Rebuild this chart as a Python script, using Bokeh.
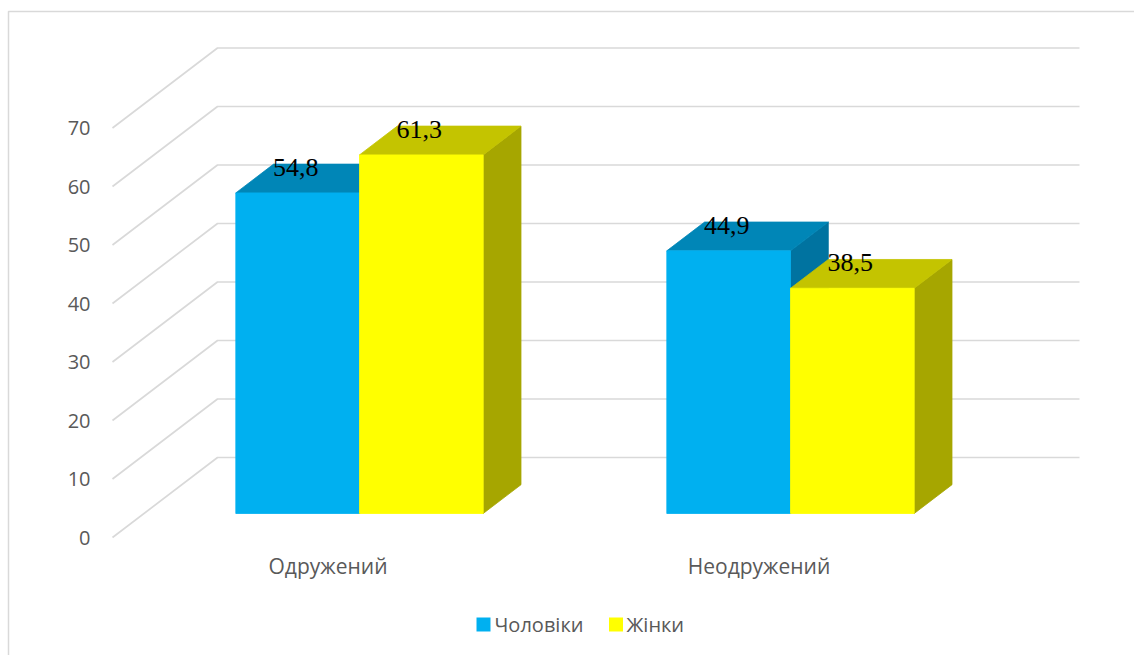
from bokeh.plotting import figure
from bokeh.models import Range1d, ColumnDataSource
from bokeh.core.properties import value
from bokeh.embed import file_html
from bokeh.resources import INLINE

# ---------------- data ----------------
categories = ["Одружений", "Неодружений"]
series_names = ["Чоловіки", "Жінки"]
men = [54.8, 44.9]
women = [61.3, 38.5]
y_ticks = [0, 10, 20, 30, 40, 50, 60, 70]
value_labels_men = ["54,8", "44,9"]
value_labels_women = ["61,3", "38,5"]

# ---------------- style / layout constants ----------------
W, H = 1134, 655
X0 = 112        # screen x of the front-left floor corner
Y0 = 537        # screen y of the front floor (value 0)
PX_U = 431      # pixels per category
PX_V = 5.85     # pixels per value unit
DEPTH_X = 105   # depth offset of back wall (px, right)
DEPTH_Y = 80    # depth offset of back wall (px, up)
D1, D2 = 0.30, 0.66   # depth of bar front / back face (0 = front, 1 = back wall)
BAR_W = 0.287   # bar width in category units

front_cols = ["#00B0F0", "#FFFF00"]
top_cols = ["#0086B7", "#C4C400"]
side_cols = ["#0073A0", "#A6A600"]
grid_col = "#D9D9D9"
text_col = "#595959"
SANS = "Open Sans"

DU = DEPTH_X / PX_U
DV = DEPTH_Y / PX_V


def P(u, v, d):
    return u + d * DU, v + d * DV


def sx(px):
    return (px - X0) / PX_U


def sy(py):
    return (Y0 - py) / PX_V


p = figure(width=W, height=H, x_range=Range1d(sx(0), sx(W)), y_range=Range1d(sy(H), sy(0)),
           output_backend="svg", toolbar_location=None, min_border=0,
           x_axis_location=None, y_axis_location=None, background_fill_color="white",
           border_fill_color="white")
p.grid.visible = False
p.outline_line_color = None

# chart-area border (left and top)
p.line([sx(8), sx(8), sx(W + 5)], [sy(H + 5), sy(11), sy(11)], line_color=grid_col, line_width=1.5)

# gridlines: floor diagonal + back wall horizontal
gx, gy = [], []
n_cat = len(categories)
for t in y_ticks:
    a = P(0, t, 0)
    b = P(0, t, 1)
    c = P(n_cat, t, 1)
    gx.append([a[0], b[0], c[0]])
    gy.append([a[1], b[1], c[1]])
p.multi_line(gx, gy, line_color=grid_col, line_width=1.7)

# y tick labels
p.text(x=[0] * len(y_ticks), y=y_ticks, text=[str(t) for t in y_ticks],
       text_align="right", text_baseline="middle", x_offset=-22,
       text_font=value(SANS), text_font_size="20px", text_color=text_col)

# bars as 3D boxes
xs, ys, cols = [], [], []
lbl_x, lbl_y, lbl_t = [], [], []
for i in range(n_cat):
    for s, vals, labs in ((0, men, value_labels_men), (1, women, value_labels_women)):
        v = vals[i]
        u0 = i + 0.5 - BAR_W + s * BAR_W
        u1 = u0 + BAR_W
        # side face
        pts = [P(u1, 0, D1), P(u1, 0, D2), P(u1, v, D2), P(u1, v, D1)]
        xs.append([q[0] for q in pts]); ys.append([q[1] for q in pts]); cols.append(side_cols[s])
        # top face
        pts = [P(u0, v, D1), P(u1, v, D1), P(u1, v, D2), P(u0, v, D2)]
        xs.append([q[0] for q in pts]); ys.append([q[1] for q in pts]); cols.append(top_cols[s])
        # front face
        pts = [P(u0, 0, D1), P(u1, 0, D1), P(u1, v, D1), P(u0, v, D1)]
        xs.append([q[0] for q in pts]); ys.append([q[1] for q in pts]); cols.append(front_cols[s])
        cx, _ = P((u0 + u1) / 2, v, D1)
        _, cy = P(0, v, D2)
        lbl_x.append(cx); lbl_y.append(cy); lbl_t.append(labs[i])

src = ColumnDataSource(dict(xs=xs, ys=ys, c=cols))
p.patches("xs", "ys", source=src, fill_color="c", line_color="c", line_width=0.8)

p.text(x=lbl_x, y=lbl_y, text=lbl_t, text_align="center", text_baseline="middle",
       x_offset=-2, y_offset=3, text_font=value("Liberation Serif"), text_font_size="26px",
       text_color="black")

# category labels
p.text(x=[i + 0.5 for i in range(n_cat)], y=[0] * n_cat, text=categories,
       text_align="center", text_baseline="middle", y_offset=28,
       text_font=value(SANS), text_font_size="21px", text_color=text_col)

# legend
leg_sq_x = [sx(483), sx(615.5)]
leg_y = sy(624)
p.scatter(x=leg_sq_x, y=[leg_y, leg_y], marker="square", size=14,
          fill_color=front_cols, line_color=None)
p.text(x=[sx(494), sx(626)], y=[leg_y, leg_y], text=series_names,
       text_align="left", text_baseline="middle",
       text_font=value(SANS), text_font_size="20px", text_color=text_col)

open("out.html", "w").write(file_html(p, INLINE))
